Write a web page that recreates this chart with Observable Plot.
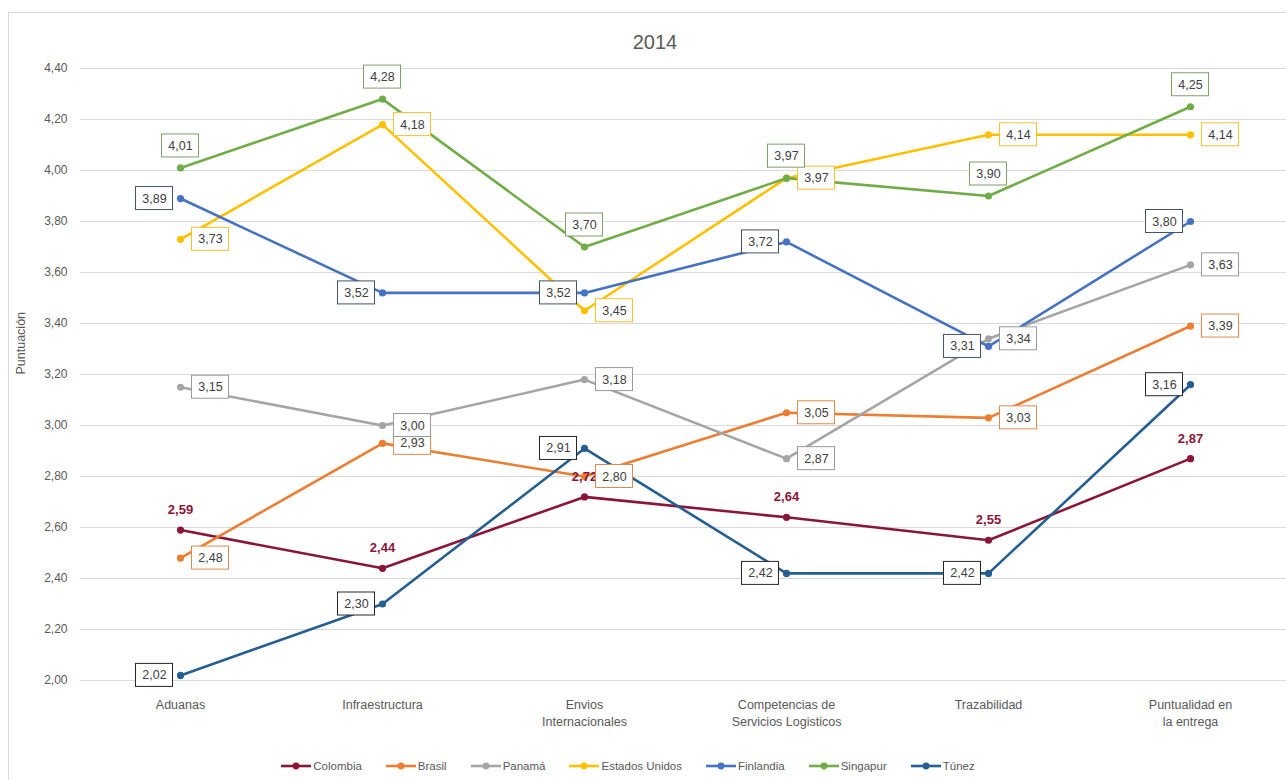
<!DOCTYPE html>
<html><head><meta charset="utf-8">
<script src="https://cdn.jsdelivr.net/npm/d3@7"></script>
<script src="https://cdn.jsdelivr.net/npm/@observablehq/plot@0.6"></script>
<style>
body{margin:0;width:1286px;height:780px;overflow:hidden;background:#fff;font-family:"Liberation Sans",Arial,sans-serif;position:relative}
#frame{position:absolute;left:8px;top:12px;width:1300px;height:800px;border:1px solid #d9d9d9;box-sizing:border-box}
#title{position:absolute;left:0;width:1310px;top:31px;text-align:center;font-size:20px;color:#595959}
#chart{position:absolute;left:0;top:60px}
#legend{position:absolute;top:760px;left:0;width:1256px;display:flex;justify-content:center;gap:24px;font-size:11.5px;color:#595959}
.item{display:flex;align-items:center;gap:2px;white-space:nowrap}
</style></head>
<body>
<div id="frame"></div>
<div id="title">2014</div>
<div id="chart"></div>
<div id="legend"></div>
<script>
const categories = ["Aduanas","Infraestructura","Envios\nInternacionales","Competencias de\nServicios Logisticos","Trazabilidad","Puntualidad en\nla entrega"];
const countries = ["Colombia","Brasil","Panamá","Estados Unidos","Finlandia","Singapur","Túnez"];
const colombia = [2.59, 2.44, 2.72, 2.64, 2.55, 2.87];
const brasil = [2.48, 2.93, 2.80, 3.05, 3.03, 3.39];
const panama = [3.15, 3.00, 3.18, 2.87, 3.34, 3.63];
const estadosUnidos = [3.73, 4.18, 3.45, 3.97, 4.14, 4.14];
const finlandia = [3.89, 3.52, 3.52, 3.72, 3.31, 3.80];
const singapur = [4.01, 4.28, 3.70, 3.97, 3.90, 4.25];
const tunez = [2.02, 2.30, 2.91, 2.42, 2.42, 3.16];
const yTicks = [2.0, 2.2, 2.4, 2.6, 2.8, 3.0, 3.2, 3.4, 3.6, 3.8, 4.0, 4.2, 4.4];

const seriesValues = [colombia, brasil, panama, estadosUnidos, finlandia, singapur, tunez];
const colors = ["#8B1538","#ED7D31","#A5A5A5","#FFC000","#4472C4","#70AD47","#255E91"];
const boxStroke = [null,"#E08A4E","#9a9a9a","#F2C230","#44546A","#7f9f6a","#262626"];
const labelPos = ["above","right","right","right","left","above","left"];

const rows = [];
countries.forEach((c, i) => seriesValues[i].forEach((v, j) => rows.push({country: c, cat: categories[j], value: v})));
const fmt = d => d.toFixed(2).replace(".", ",");

const labelMarks = [];
countries.forEach((c, i) => {
  const data = rows.filter(r => r.country === c);
  const pos = labelPos[i];
  const dx = pos === "right" ? 30 : pos === "left" ? -26 : 0;
  const dy = pos === "above" ? -22 : 0;
  if (i === 0) {
    labelMarks.push(Plot.text(data, {x: "cat", y: "value", text: d => fmt(d.value), dy: -20, fill: colors[0], fontWeight: "bold", fontSize: 13}));
  } else {
    labelMarks.push(Plot.rect(data, {x1: "cat", x2: "cat", y1: "value", y2: "value", insetLeft: -18.5, insetRight: -18.5, insetTop: -11.5, insetBottom: -11.5, dx, dy, fill: "white", stroke: boxStroke[i], strokeWidth: 1}));
    labelMarks.push(Plot.text(data, {x: "cat", y: "value", text: d => fmt(d.value), dx, dy, fill: "#404040", fontSize: 12.5}));
  }
});

const chart = Plot.plot({
  width: 1286, height: 675,
  marginLeft: 80, marginRight: 0, marginTop: 8, marginBottom: 55,
  style: {fontFamily: '"Liberation Sans", Arial, sans-serif', background: "transparent"},
  x: {type: "point", domain: categories, range: [178, 1191], padding: 0, label: null},
  y: {domain: [2, 4.4], label: null},
  color: {domain: countries, range: colors},
  marks: [
    Plot.ruleY(yTicks, {stroke: "#d9d9d9", strokeWidth: 1}),
    Plot.axisY({ticks: yTicks, tickSize: 0, tickPadding: 13, tickFormat: fmt, fontSize: 12, fill: "#595959", label: null}),
    Plot.axisX({tickSize: 0, tickPadding: 17, fontSize: 12.5, lineHeight: 1.35, fill: "#595959", label: null}),
    Plot.text(["Puntuación"], {frameAnchor: "left", dx: -60, rotate: -90, text: d => d, fontSize: 12.5, fill: "#595959"}),
    Plot.line(rows, {x: "cat", y: "value", z: "country", stroke: "country", strokeWidth: 2.6}),
    Plot.dot(rows, {x: "cat", y: "value", fill: "country", r: 3.6}),
    ...labelMarks
  ]
});
document.getElementById("chart").append(chart);

const legend = document.getElementById("legend");
countries.forEach((c, i) => {
  const item = document.createElement("div");
  item.className = "item";
  item.innerHTML = `<svg width="30" height="10"><line x1="0" y1="5" x2="30" y2="5" stroke="${colors[i]}" stroke-width="2.6"/><circle cx="15" cy="5" r="3.4" fill="${colors[i]}"/></svg><span>${c}</span>`;
  legend.append(item);
});
</script>
</body></html>
